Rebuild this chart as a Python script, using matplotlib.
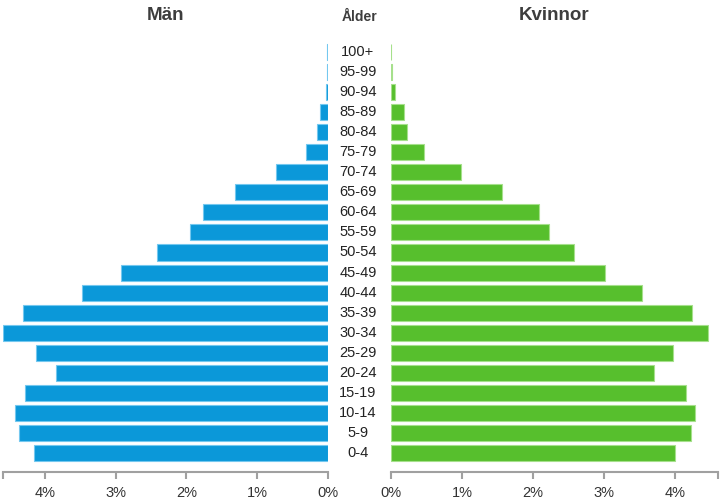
import numpy as np
import matplotlib
matplotlib.use('Agg')
import matplotlib.pyplot as plt
from matplotlib.transforms import blended_transform_factory

plt.rcParams['font.family'] = ['Liberation Sans', 'DejaVu Sans']

ages = ['0-4', '5-9', '10-14', '15-19', '20-24', '25-29', '30-34', '35-39', '40-44',
        '45-49', '50-54', '55-59', '60-64', '65-69', '70-74', '75-79', '80-84',
        '85-89', '90-94', '95-99', '100+']
men = [4.16, 4.38, 4.43, 4.29, 3.85, 4.13, 4.60, 4.31, 3.48,
       2.93, 2.42, 1.95, 1.77, 1.31, 0.73, 0.31, 0.15,
       0.10, 0.02, 0.005, 0.001]
women = [4.00, 4.23, 4.29, 4.15, 3.71, 3.98, 4.46, 4.24, 3.54,
         3.02, 2.58, 2.22, 2.09, 1.57, 0.98, 0.47, 0.23,
         0.19, 0.06, 0.015, 0.002]
ticks = [0, 1, 2, 3, 4]
tick_labels = ['0%', '1%', '2%', '3%', '4%']

W, H = 721, 504
fig = plt.figure(figsize=(W / 100, H / 100), dpi=100)

ax_l = fig.add_axes([3 / W, 1 - 472 / H, 324.5 / W, 430 / H])
ax_r = fig.add_axes([391 / W, 1 - 472 / H, 326.5 / W, 430 / H])

xmax = max(max(men), max(women))
y = np.arange(len(ages))

ax_l.barh(y, men, height=0.8, color='#0b98d9', edgecolor='#74c8ef', linewidth=0.8)
ax_r.barh(y, women, height=0.8, color='#57bf2d', edgecolor='#a6e08c', linewidth=0.8)

ax_l.set_xlim(xmax, 0)
ax_r.set_xlim(0, xmax)

for ax in (ax_l, ax_r):
    ax.set_ylim(-0.95, 20.5)
    ax.set_yticks([])
    for s in ('top', 'left', 'right'):
        ax.spines[s].set_visible(False)
    ax.spines['bottom'].set_color('#a0a0a0')
    ax.spines['bottom'].set_linewidth(1.5)
    ax.set_xticks(ticks + [xmax])
    ax.set_xticklabels(tick_labels + [''])
    ax.tick_params(axis='x', direction='out', length=5, width=1.5, color='#a0a0a0',
                   labelsize=10.5, labelcolor='#333333', pad=5)
    ax.set_facecolor('none')

trans = blended_transform_factory(fig.transFigure, ax_r.transData)
for i, a in enumerate(ages):
    fig.text(358 / W, i, a, transform=trans, ha='center', va='center',
             fontsize=10.5, color='#222222')

fig.text(165 / W, 1 - 16 / H, 'Män', ha='center', va='center',
         fontsize=13.5, fontweight='bold', color='#3d3d3d')
fig.text(554 / W, 1 - 16 / H, 'Kvinnor', ha='center', va='center',
         fontsize=13.5, fontweight='bold', color='#3d3d3d')
fig.text(360 / W, 1 - 17 / H, 'Ålder', ha='center', va='center',
         fontsize=10, fontweight='bold', color='#3d3d3d')

fig.savefig('out.png', dpi=100)
